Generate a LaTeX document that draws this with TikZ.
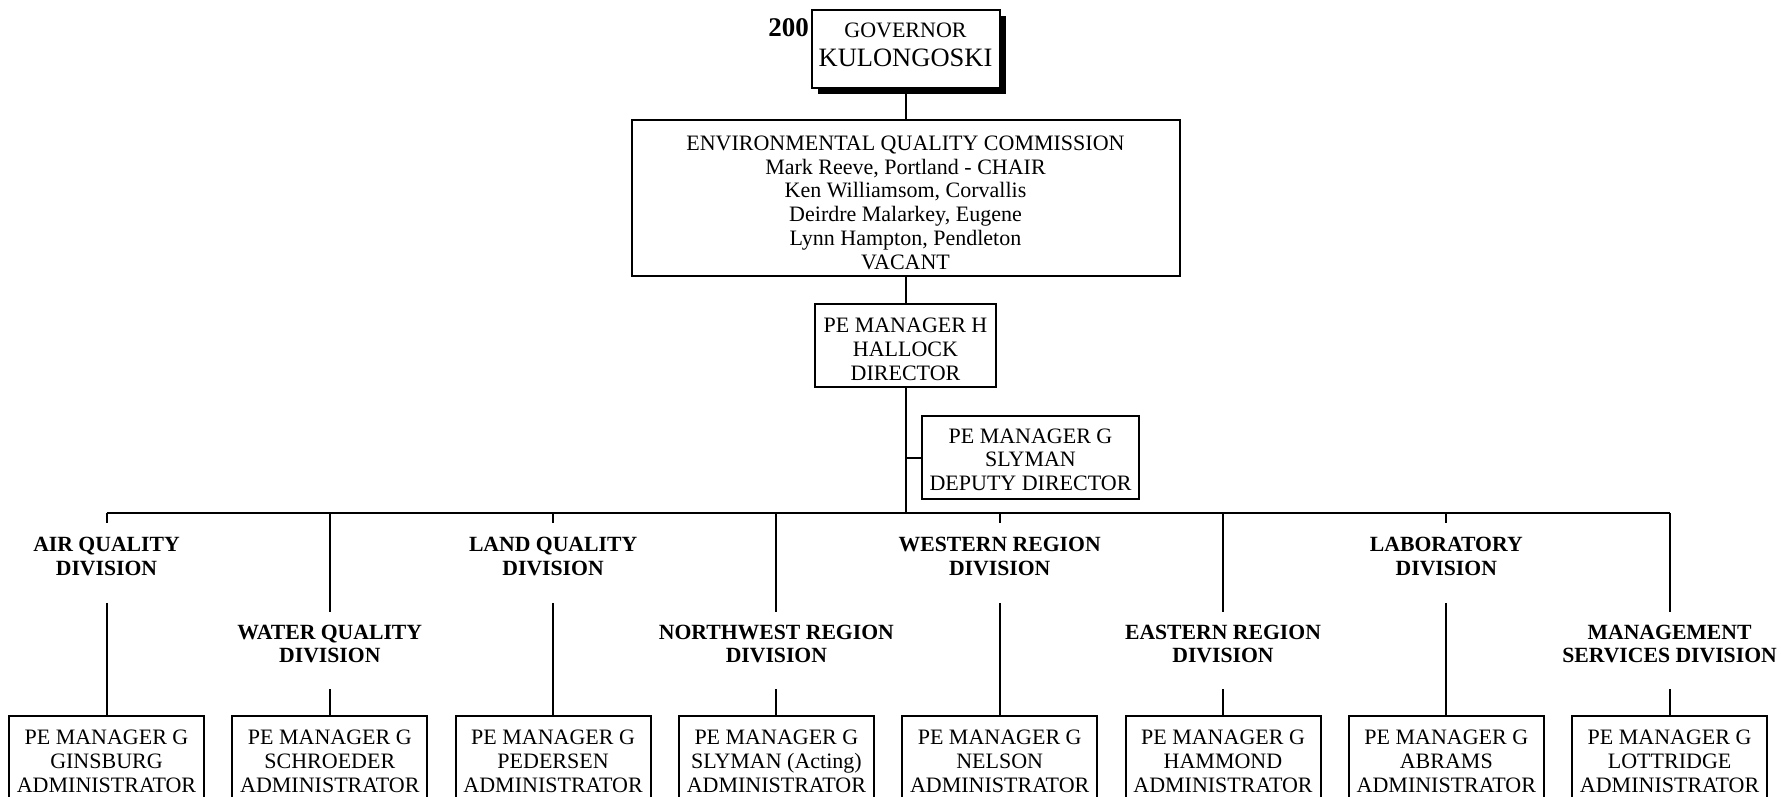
\documentclass[tikz,border=0pt]{standalone}
\usepackage{fontspec}
\setmainfont{Liberation Serif}
\tikzset{
  box/.style={draw, line width=2pt, inner sep=0pt, align=center, font=\fontsize{22}{23.7}\selectfont},
  admbox/.style={box, minimum width=195pt, minimum height=91pt},
  divlabel/.style={inner sep=0pt, align=center, font=\bfseries\fontsize{21.7}{23.7}\selectfont},
  conn/.style={line width=2pt},
}
\begin{document}
\begin{tikzpicture}[x=1pt,y=-1pt]
\useasboundingbox (0,0) rectangle (1781,797);
% governor
\fill (817.5,16) rectangle (1005.5,94);
\node[box, fill=white, minimum width=188pt, minimum height=78pt, font=\fontsize{22}{29}\selectfont] (gov) at (905.5,49)
  {GOVERNOR\\{\fontsize{26.5}{29}\selectfont KULONGOSKI}\rule[-8pt]{0pt}{0pt}};
\node[anchor=base east, inner sep=0pt, font=\bfseries\fontsize{27}{27}\selectfont] (num) at (809,37) {200};
% commission
\node[box, minimum width=548pt, minimum height=156pt] (eqc) at (905.5,198)
  {\rule{0pt}{24pt}ENVIRONMENTAL QUALITY COMMISSION\\Mark Reeve, Portland - CHAIR\\Ken Williamsom, Corvallis\\Deirdre Malarkey, Eugene\\Lynn Hampton, Pendleton\\VACANT};
% director
\node[box, minimum width=181pt, minimum height=83pt] (dir) at (905.5,345.5)
  {\rule{0pt}{22pt}PE MANAGER H\\HALLOCK\\DIRECTOR};
% deputy
\node[box, minimum width=217pt, minimum height=83pt] (dep) at (1030.5,457.5)
  {\rule{0pt}{19pt}PE MANAGER G\\SLYMAN\\DEPUTY DIRECTOR};
% bus coordinates
\coordinate (bus) at (905.5,513);
\coordinate (c1) at (106.5,513);
\coordinate (c2) at (329.8,513);
\coordinate (c3) at (553.1,513);
\coordinate (c4) at (776.4,513);
\coordinate (c5) at (999.7,513);
\coordinate (c6) at (1223,513);
\coordinate (c7) at (1446.3,513);
\coordinate (c8) at (1669.6,513);
% division labels
\node[divlabel] (l1) at (106.5,556.5) {AIR QUALITY\\DIVISION};
\node[divlabel] (l2) at (329.8,644) {WATER QUALITY\\DIVISION};
\node[divlabel] (l3) at (553.1,556.5) {LAND QUALITY\\DIVISION};
\node[divlabel] (l4) at (776.4,644) {NORTHWEST REGION\\DIVISION};
\node[divlabel] (l5) at (999.7,556.5) {WESTERN REGION\\DIVISION};
\node[divlabel] (l6) at (1223,644) {EASTERN REGION\\DIVISION};
\node[divlabel] (l7) at (1446.3,556.5) {LABORATORY\\DIVISION};
\node[divlabel] (l8) at (1669.6,644) {MANAGEMENT\\SERVICES DIVISION};
% administrator boxes
\node[admbox] (b1) at (106.5,761.5) {PE MANAGER G\\GINSBURG\\ADMINISTRATOR};
\node[admbox] (b2) at (329.8,761.5) {PE MANAGER G\\SCHROEDER\\ADMINISTRATOR};
\node[admbox] (b3) at (553.1,761.5) {PE MANAGER G\\PEDERSEN\\ADMINISTRATOR};
\node[admbox] (b4) at (776.4,761.5) {PE MANAGER G\\SLYMAN (Acting)\\ADMINISTRATOR};
\node[admbox] (b5) at (999.7,761.5) {PE MANAGER G\\NELSON\\ADMINISTRATOR};
\node[admbox] (b6) at (1223,761.5) {PE MANAGER G\\HAMMOND\\ADMINISTRATOR};
\node[admbox] (b7) at (1446.3,761.5) {PE MANAGER G\\ABRAMS\\ADMINISTRATOR};
\node[admbox] (b8) at (1669.6,761.5) {PE MANAGER G\\LOTTRIDGE\\ADMINISTRATOR};
% connectors
\draw[conn] (gov.south) -- (eqc.north);
\draw[conn] (eqc.south) -- (dir.north);
\draw[conn] (dir.south) -- (bus);
\draw[conn] (dir.south |- dep.west) -- (dep.west);
\draw[conn] (c1) -- (c8);
\foreach \i in {1,3,5,7} {
  \draw[conn] (c\i) -- ([yshift=14pt]l\i.north);
  \draw[conn] ([yshift=-27pt]l\i.south) -- (b\i.north);
}
\foreach \i in {2,4,6,8} {
  \draw[conn] (c\i) -- ([yshift=13pt]l\i.north);
  \draw[conn] ([yshift=-26pt]l\i.south) -- (b\i.north);
}
\end{tikzpicture}
\end{document}
